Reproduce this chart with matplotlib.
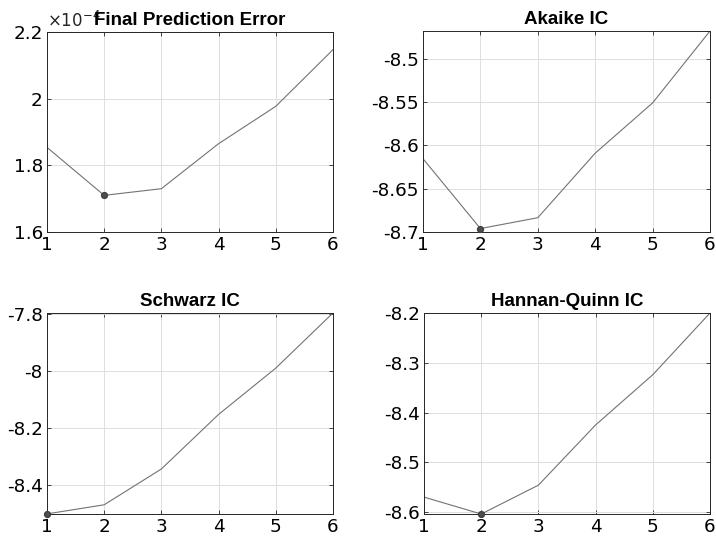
import matplotlib
matplotlib.use("Agg")
import matplotlib.pyplot as plt
from matplotlib.ticker import FuncFormatter
import numpy as np

plt.rcParams['font.family'] = ['Liberation Sans', 'DejaVu Sans']
plt.rcParams['axes.unicode_minus'] = False
plt.rcParams['mathtext.fontset'] = 'custom'
plt.rcParams['mathtext.rm'] = 'DejaVu Sans'
plt.rcParams['mathtext.it'] = 'DejaVu Sans'

lags = [1, 2, 3, 4, 5, 6]
fpe = [1.854e-4, 1.710e-4, 1.730e-4, 1.865e-4, 1.977e-4, 2.147e-4]
aic = [-8.6154, -8.696, -8.6835, -8.609, -8.551, -8.468]
sic = [-8.503, -8.471, -8.345, -8.153, -7.990, -7.796]
hqc = [-8.570, -8.604, -8.546, -8.425, -8.324, -8.200]

titles = ['Final Prediction Error', 'Akaike IC', 'Schwarz IC', 'Hannan-Quinn IC']
series = [fpe, aic, sic, hqc]
ylims = [(1.6e-4, 2.2e-4), (-8.7, -8.468), (-8.5035, -7.796), (-8.604, -8.2)]
yticks = [[1.6e-4, 1.8e-4, 2.0e-4, 2.2e-4],
          [-8.7, -8.65, -8.6, -8.55, -8.5],
          [-8.4, -8.2, -8.0, -7.8],
          [-8.6, -8.5, -8.4, -8.3, -8.2]]
scales = [1e4, 1, 1, 1]

# axes boxes in figure fractions (left, bottom, width, height)
boxes = [(0.0656, 0.5735, 0.3994, 0.3676),
         (0.5908, 0.5735, 0.4008, 0.3695),
         (0.0656, 0.0551, 0.3994, 0.3695),
         (0.5922, 0.0551, 0.3994, 0.3695)]

line_col = (0.45, 0.45, 0.45)
axis_col = (0.15, 0.15, 0.15)

fig = plt.figure(figsize=(7.16, 5.44), dpi=100)
for i in range(4):
    ax = fig.add_axes(boxes[i])
    y = series[i]
    ax.plot(lags, y, '-', color=line_col, lw=0.8)
    k = int(np.argmin(y))
    ax.plot(lags[k], y[k], 'o', color=(0.3, 0.3, 0.3), ms=4.2,
            mec=(0.25, 0.25, 0.25), clip_on=False, zorder=5)
    ax.set_xlim(1, 6)
    ax.set_ylim(*ylims[i])
    ax.set_xticks(lags)
    ax.set_yticks(yticks[i])
    sc = scales[i]
    ax.yaxis.set_major_formatter(FuncFormatter(lambda v, p, sc=sc: '%g' % round(v * sc, 4)))
    ax.grid(True, color=(0.87, 0.87, 0.87), lw=0.7)
    ax.set_axisbelow(True)
    for s in ax.spines.values():
        s.set_color(axis_col)
        s.set_linewidth(0.7)
    ax.tick_params(direction='in', top=True, right=True, length=3,
                   width=0.6, color=axis_col, labelcolor='black', pad=3)
    for lab in ax.get_xticklabels() + ax.get_yticklabels():
        lab.set_fontfamily('DejaVu Sans')
        lab.set_fontsize(13.2)
    ax.set_title(titles[i], fontsize=13.5, fontweight='bold', y=1.0, pad=5)
    if i == 0:
        # exponent label sits where MATLAB puts it, tucked under the title start
        ax.text(0.0, 1.012, r'$\times10^{-4}$', transform=ax.transAxes,
                ha='left', va='bottom', fontsize=12, color=axis_col)

fig.savefig('out.png', dpi=100)
